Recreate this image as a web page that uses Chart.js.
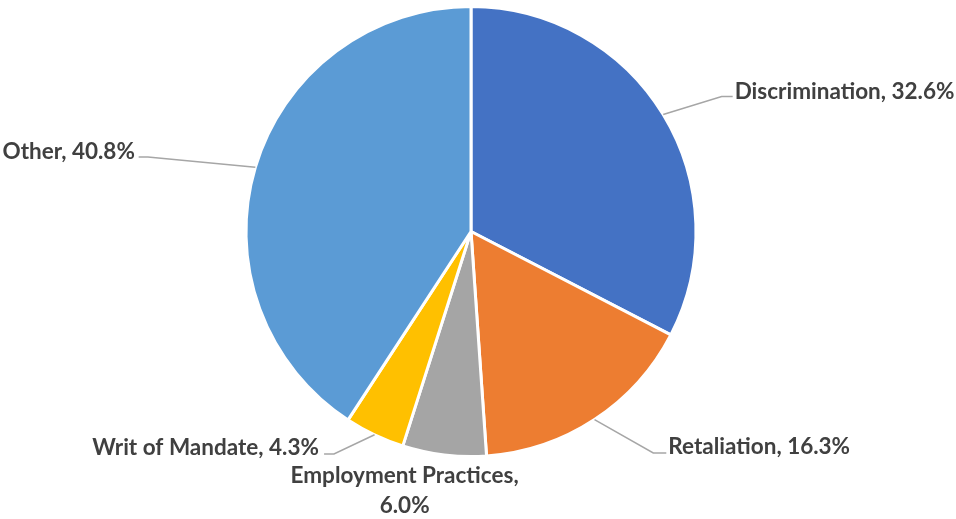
<!DOCTYPE html>
<html>
<head>
<meta charset="utf-8">
<script src="https://cdn.jsdelivr.net/npm/chart.js@4"></script>
<style>
  html, body { margin: 0; padding: 0; background: #ffffff; }
  #wrap { width: 956px; height: 519px; position: relative; }
</style>
</head>
<body>
<div id="wrap"><canvas id="pie"></canvas></div>
<script>
// Case types and their share of the total (%)
const categories = ['Discrimination', 'Retaliation', 'Employment Practices', 'Writ of Mandate', 'Other'];
const shares = [32.6, 16.3, 6.0, 4.3, 40.8];
const sliceColors = ['#4472C4', '#ED7D31', '#A5A5A5', '#FFC000', '#5B9BD5'];

// Callout placement, in units of the pie radius measured from its centre.
// text: anchor of the label, elbow/end: bend and end of the leader line.
const calloutLayout = [
  { text: [1.172, -0.622], align: 'left',   elbow: [1.114, -0.600], end: [1.163, -0.600] },
  { text: [0.877,  0.957], align: 'left',   elbow: [0.810,  0.984], end: [0.868,  0.984] },
  { text: [-0.295, 1.087], align: 'center', wrap: true },
  { text: [-0.676, 0.962], align: 'right',  elbow: [-0.609, 0.989], end: [-0.653, 0.989] },
  { text: [-1.494, -0.353], align: 'right', elbow: [-1.436, -0.331], end: [-1.477, -0.331] }
];

const calloutPlugin = {
  id: 'callouts',
  afterDatasetsDraw(chart) {
    const ctx = chart.ctx;
    const meta = chart.getDatasetMeta(0);
    ctx.save();
    meta.data.forEach((arc, i) => {
      const p = arc.getProps(['x', 'y', 'startAngle', 'endAngle', 'outerRadius'], true);
      const r = p.outerRadius;
      const mid = (p.startAngle + p.endAngle) / 2;
      const lay = calloutLayout[i];
      const pt = (v) => [p.x + v[0] * r, p.y + v[1] * r];
      const valueText = shares[i].toFixed(1) + '%';

      if (lay.elbow) {
        const s = [p.x + Math.cos(mid) * r, p.y + Math.sin(mid) * r];
        const e1 = pt(lay.elbow), e2 = pt(lay.end);
        ctx.beginPath();
        ctx.moveTo(s[0], s[1]);
        ctx.lineTo(e1[0], e1[1]);
        ctx.lineTo(e2[0], e2[1]);
        ctx.strokeStyle = '#A6A6A6';
        ctx.lineWidth = 1.5;
        ctx.stroke();
      }

      ctx.font = 'bold 22.5px Lato';
      ctx.fillStyle = '#404040';
      ctx.textAlign = lay.align;
      ctx.textBaseline = 'middle';
      const t = pt(lay.text);
      if (lay.wrap) {
        ctx.fillText(categories[i] + ',', t[0], t[1]);
        ctx.fillText(valueText, t[0], t[1] + 30);
      } else {
        ctx.fillText(categories[i] + ', ' + valueText, t[0], t[1]);
      }
    });
    ctx.restore();
  }
};

new Chart(document.getElementById('pie'), {
  type: 'pie',
  data: {
    labels: categories,
    datasets: [{
      data: shares,
      backgroundColor: sliceColors,
      borderColor: '#ffffff',
      borderWidth: 3
    }]
  },
  options: {
    responsive: true,
    maintainAspectRatio: false,
    animation: false,
    layout: { padding: { left: 10, right: 24, top: 5, bottom: 61 } },
    plugins: {
      legend: { display: false },
      tooltip: { enabled: false }
    }
  },
  plugins: [calloutPlugin]
});
</script>
</body>
</html>
